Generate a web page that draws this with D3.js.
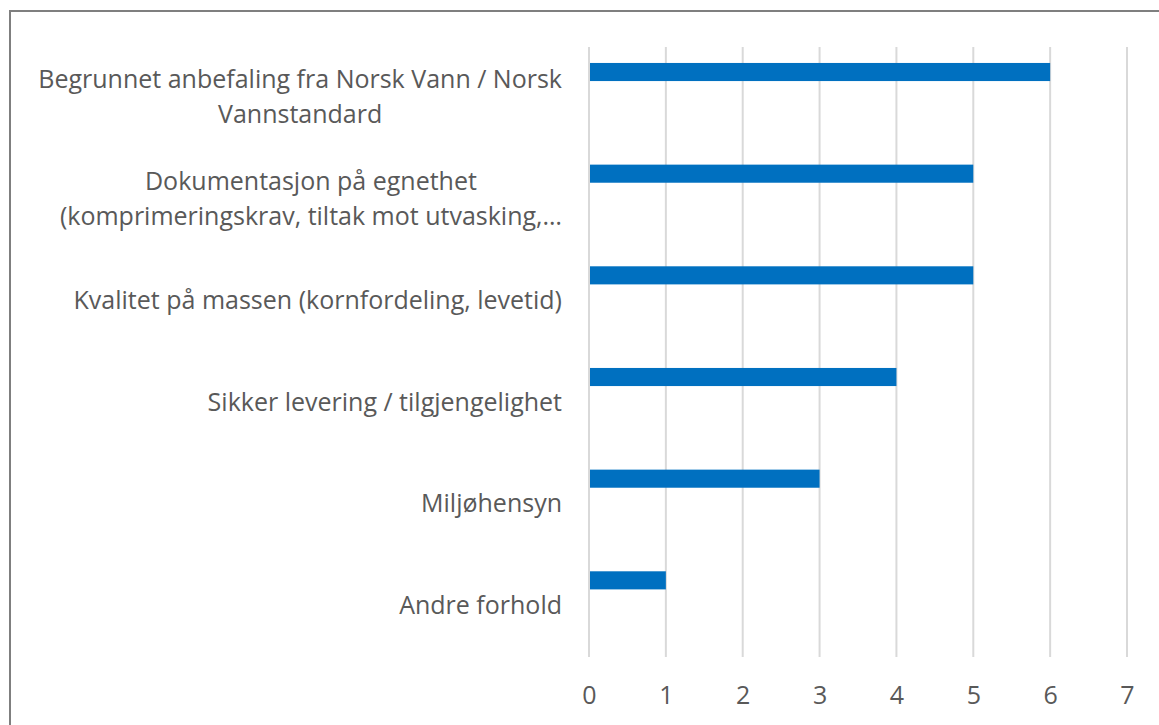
<!DOCTYPE html>
<html>
<head>
<meta charset="utf-8">
<script src="https://cdn.jsdelivr.net/npm/d3@7"></script>
<style>
  html, body { margin: 0; padding: 0; background: #fff; }
  svg { display: block; }
  text { font-family: "Open Sans", "Noto Sans", sans-serif; fill: #595959; }
</style>
</head>
<body>
<svg id="chart" width="1159" height="725"></svg>
<script>
// ---- data ----
const categories = [
  "Begrunnet anbefaling fra Norsk Vann / Norsk Vannstandard",
  "Dokumentasjon på egnethet (komprimeringskrav, tiltak mot utvasking, ...)",
  "Kvalitet på massen (kornfordeling, levetid)",
  "Sikker levering / tilgjengelighet",
  "Miljøhensyn",
  "Andre forhold"
];
const labelLines = [
  ["Begrunnet anbefaling fra Norsk Vann / Norsk", "Vannstandard"],
  ["Dokumentasjon på egnethet", "(komprimeringskrav, tiltak mot utvasking,…"],
  ["Kvalitet på massen (kornfordeling, levetid)"],
  ["Sikker levering / tilgjengelighet"],
  ["Miljøhensyn"],
  ["Andre forhold"]
];
const values = [6, 5, 5, 4, 3, 1];
const xTicks = [0, 1, 2, 3, 4, 5, 6, 7];

// ---- layout ----
const svg = d3.select("#chart");
const W = 1159, H = 725;
const plot = { left: 589, right: 1127, top: 47, bottom: 657 };
const fontSize = 25;

svg.append("rect").attr("width", W).attr("height", H).attr("fill", "#fff");

// outer frame (only top and left visible)
svg.append("path")
  .attr("d", `M10,${H} V11 H${W}`)
  .attr("fill", "none")
  .attr("stroke", "#7f7f7f")
  .attr("stroke-width", 2);

const x = d3.scaleLinear().domain([0, 7]).range([plot.left, plot.right]);
const y = d3.scaleBand().domain(categories).range([plot.top, plot.bottom]).padding(0);
const step = y.step();
const barOffset = step * 0.157;
const barH = step * 0.178;

// gridlines
svg.append("g").selectAll("line").data(xTicks).join("line")
  .attr("x1", d => x(d)).attr("x2", d => x(d))
  .attr("y1", plot.top).attr("y2", plot.bottom)
  .attr("stroke", "#d9d9d9").attr("stroke-width", 2);

// bars
svg.append("g").selectAll("rect").data(categories).join("rect")
  .attr("x", x(0) + 1)
  .attr("y", d => y(d) + barOffset)
  .attr("width", (d, i) => x(values[i]) - x(0) - 1)
  .attr("height", barH)
  .attr("fill", "#0070c0");

// x axis tick labels
const xAxis = d3.axisBottom(x).tickValues(xTicks).tickSize(0).tickPadding(0).tickFormat(d3.format("d"));
const gx = svg.append("g").attr("transform", `translate(0,${plot.bottom})`).call(xAxis);
gx.select(".domain").remove();
gx.selectAll("text")
  .attr("dy", null)
  .attr("y", 40)
  .attr("dominant-baseline", "middle")
  .style("font-size", fontSize + "px")
  .style("font-family", '"Open Sans", "Noto Sans", sans-serif')
  .attr("fill", "#595959");

// category labels
const lineGap = 35;
const labelRight = 562;
const lg = svg.append("g");
categories.forEach((c, i) => {
  const lines = labelLines[i];
  const cy = y(c) + step / 2 + 1;
  const g = lg.append("g");
  const texts = lines.map((t, j) => g.append("text")
    .attr("text-anchor", "middle")
    .attr("dominant-baseline", "middle")
    .style("font-size", fontSize + "px")
    .attr("y", cy + (j - (lines.length - 1) / 2) * lineGap)
    .text(t));
  const maxW = d3.max(texts, t => t.node().getComputedTextLength());
  texts.forEach(t => t.attr("x", labelRight - maxW / 2));
});
</script>
</body>
</html>
